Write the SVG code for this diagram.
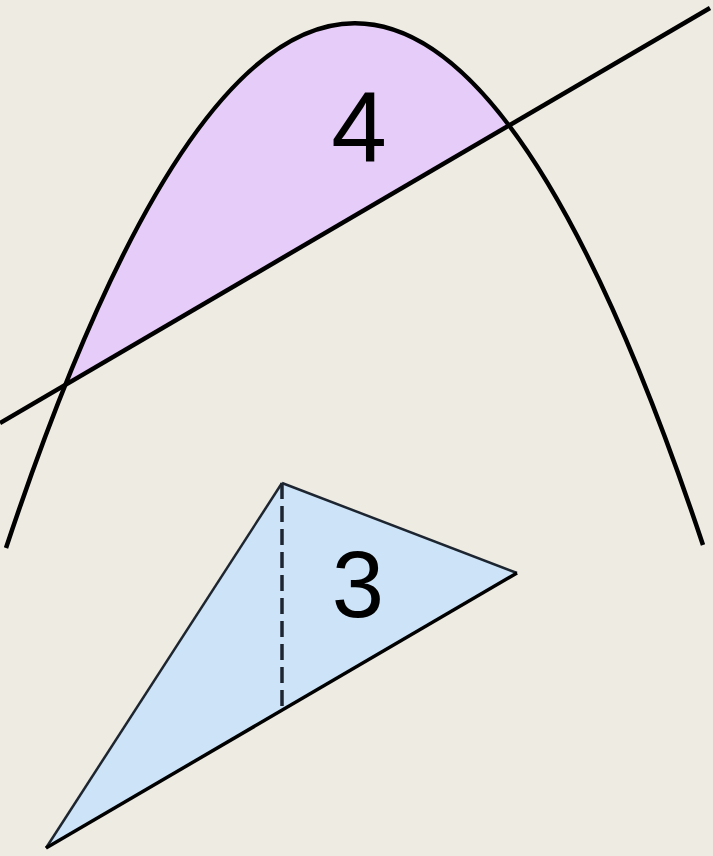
<svg xmlns="http://www.w3.org/2000/svg" width="713" height="856" viewBox="0 0 713 856">
<style>
.bold{fill:none;stroke:#000;stroke-width:4.5;stroke-linecap:butt}
.edge{fill:none;stroke:#1c2530;stroke-width:2.5}
.label{font-family:"Liberation Sans",Arial,sans-serif;fill:#000;text-anchor:middle}
</style>
<defs>
<clipPath id="above"><polygon points="0,0 713,0 713,6 0,423"/></clipPath>
</defs>
<rect width="713" height="856" fill="#EEEBE3"/>
<g id="region4">
<path d="M6,548 Q354.5,-500 703,545 Z" fill="#E6CCF8" clip-path="url(#above)"/>
</g>
<g id="triangle3">
<polygon points="282,483 517,573 46,848" fill="#CDE4F8"/>
<line class="edge" x1="282" y1="483" x2="517" y2="573"/>
<line class="edge" x1="282" y1="483" x2="46" y2="848"/>
<line x1="282" y1="483" x2="282" y2="709" stroke="#1c2530" stroke-width="3.5" stroke-dasharray="16 7"/>
<line x1="46" y1="848" x2="517" y2="573" stroke="#000" stroke-width="3.5"/>
</g>
<g id="connectors">
<path class="bold" d="M6,548 Q354.5,-500 703,545"/>
<line class="bold" x1="0" y1="423" x2="710" y2="8"/>
</g>
<g id="labels">
<text class="label" x="359" y="162" font-size="100">4</text>
<text class="label" x="358" y="617" font-size="94">3</text>
</g>
</svg>
